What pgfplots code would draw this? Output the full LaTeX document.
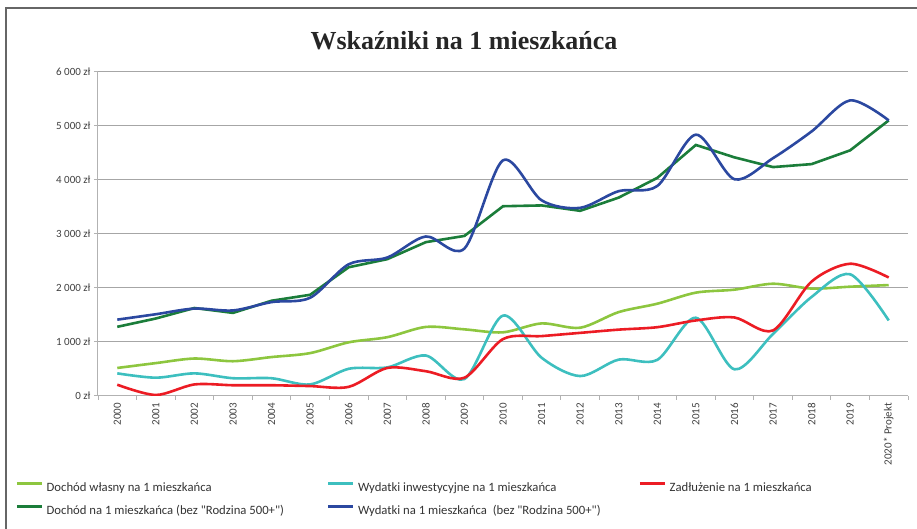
\documentclass[border=0pt]{standalone}
\usepackage{fontspec}
\setmainfont{Carlito}
\newfontfamily\titlefont{Liberation Serif}
\usepackage{pgfplots}
\usepackage{pgfplotstable}
\pgfplotsset{compat=1.18}

\definecolor{wlasny}{HTML}{8DC63F}
\definecolor{inwest}{HTML}{3DBFBF}
\definecolor{zadluz}{HTML}{EC1C24}
\definecolor{dochod}{HTML}{1B7D3A}
\definecolor{wydatki}{HTML}{2B48A0}
\definecolor{siatka}{HTML}{A6A6A6}

% rok: 0 = 2000, ..., 20 = 2020* Projekt
\pgfplotstableread{
i  wlasny inwest zadluz dochod wydatki
0   510   410    200   1272   1405
1   600   330     10   1426   1505
2   685   410    205   1620   1610
3   635   320    190   1530   1575
4   712   320    190   1755   1730
5   785   205    175   1865   1810
6   985   495    160   2375   2430
7  1080   520    510   2525   2555
8  1270   740    450   2840   2945
9  1225   305    330   2955   2722
10 1170  1480   1045   3505   4355
11 1335   700   1100   3520   3615
12 1255   360   1160   3420   3475
13 1545   665   1220   3665   3785
14 1700   660   1265   4030   3880
15 1905  1440   1390   4640   4830
16 1960   485   1445   4410   4005
17 2070  1140   1205   4230   4395
18 1980  1825   2110   4285   4890
19 2015  2245   2440   4540   5465
20 2045  1390   2185   5095   5095
}\dane

\begin{document}
\begin{tikzpicture}
\useasboundingbox (-98pt,-132.5pt) rectangle (819pt,395.5pt);
\draw[black!60, line width=1.2pt] (-92pt,-140pt) -- (-92pt,387.5pt) -- (830pt,387.5pt);
\node[anchor=base, font=\titlefont\bfseries\fontsize{26}{30}\selectfont, text=black!85]
  at (366pt,345.5pt) {Wskaźniki na 1 mieszkańca};
\begin{axis}[
    width=810pt, height=324pt, scale only axis,
    xmin=-0.5, xmax=20.5,
    ymin=0, ymax=6000,
    axis x line*=bottom, axis y line*=left,
    axis line style={draw=black!30, line width=1pt},
    ytick={0,1000,...,6000},
    yticklabels={0 zł,1 000 zł,2 000 zł,3 000 zł,4 000 zł,5 000 zł,6 000 zł},
    ymajorgrids, grid style={siatka, line width=0.8pt},
    xtick={-0.5,0.5,...,20.5}, xticklabels={},
    extra x ticks={0,1,...,20},
    extra x tick labels={2000,2001,2002,2003,2004,2005,2006,2007,2008,2009,2010,2011,2012,2013,2014,2015,2016,2017,2018,2019,2020* Projekt},
    extra x tick style={tick style={draw=none}, grid=none},
    tick align=outside, major tick length=4pt,
    tick style={black!30, line width=0.8pt},
    ticklabel style={font=\fontsize{11}{13}\selectfont, text=black!75},
    xticklabel style={rotate=90, anchor=east},
    legend cell align=left,
    legend columns=3,
    legend style={at={(-0.1025,-0.266)}, anchor=north west, draw=none, fill=none,
        inner sep=0pt, font=\fontsize{12.7}{15}\selectfont, text=black!80,
        nodes={inner sep=0pt, text height=9pt, text depth=3pt},
        row sep=10pt,
        /tikz/every odd column/.append style={column sep=3pt}},
    legend image code/.code={\draw[#1, line width=3.5pt] (0pt,5pt) -- (25pt,5pt);},
]
\addplot[wlasny, line width=2.6pt, smooth] table[x=i, y=wlasny] {\dane};
\addlegendentry{\makebox[280pt][l]{Dochód własny na 1 mieszkańca}}
\addplot[inwest, line width=2.6pt, smooth] table[x=i, y=inwest] {\dane};
\addlegendentry{\makebox[280pt][l]{Wydatki inwestycyjne na 1 mieszkańca}}
\addplot[zadluz, line width=2.6pt, smooth] table[x=i, y=zadluz] {\dane};
\addlegendentry{Zadłużenie na 1 mieszkańca}
\addplot[dochod, line width=2.6pt] table[x=i, y=dochod] {\dane};
\addlegendentry{\makebox[280pt][l]{Dochód na 1 mieszkańca (bez \textquotedbl Rodzina 500+\textquotedbl)}}
\addplot[wydatki, line width=2.6pt, smooth] table[x=i, y=wydatki] {\dane};
\addlegendentry{\makebox[280pt][l]{Wydatki na 1 mieszkańca~ (bez \textquotedbl Rodzina 500+\textquotedbl)}}
\end{axis}
\end{tikzpicture}
\end{document}
